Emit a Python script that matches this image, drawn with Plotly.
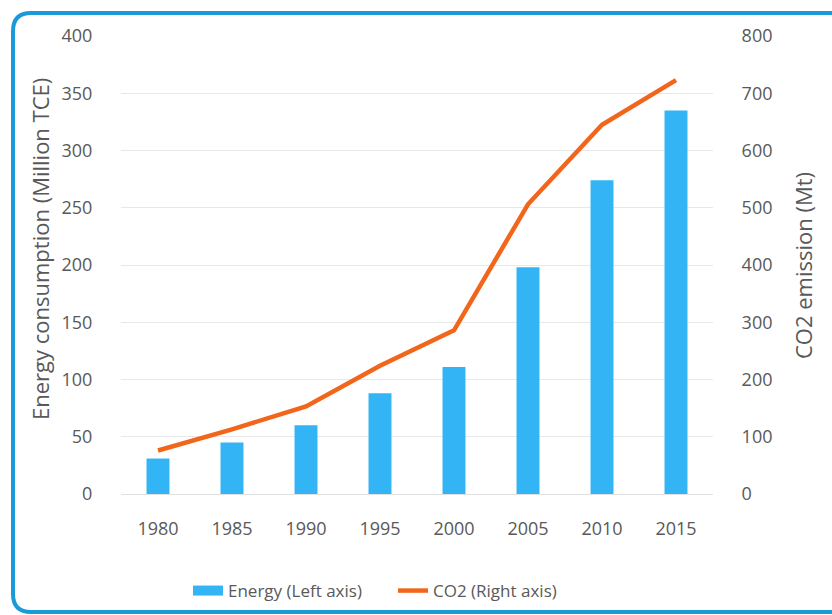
import plotly.graph_objects as go

years = ["1980", "1985", "1990", "1995", "2000", "2005", "2010", "2015"]
energy = [31, 45, 60, 88, 111, 198, 274, 335]
co2 = [76, 113, 153, 224, 286, 506, 645, 723]
left_ticks = [0, 50, 100, 150, 200, 250, 300, 350, 400]
right_ticks = [0, 100, 200, 300, 400, 500, 600, 700, 800]

W, H = 832, 615
L, R, T, B = 121, 119, 36, 121
pw, ph = W - L - R, H - T - B

def px(x):
    return (x - L) / pw

def py(y):
    return 1 - (y - T) / ph

font = "Open Sans, Noto Sans, sans-serif"
gray = "#595959"
blue = "#33b4f4"
orange = "#f2661c"

fig = go.Figure()
fig.add_trace(go.Bar(x=years, y=energy, name="Energy (Left axis)", showlegend=False,
                     marker=dict(color=blue, line=dict(width=0)), width=0.31))
# legend-only entry drawn as a thick swatch like the reference legend
fig.add_trace(go.Scatter(x=[None], y=[None], name="Energy (Left axis)", mode="lines",
                         line=dict(color=blue, width=14)))
fig.add_trace(go.Scatter(x=years, y=co2, name="CO2 (Right axis)", yaxis="y2",
                         mode="lines", line=dict(color=orange, width=4.5)))

# rounded frame
x0, x1, y0, y1, r = 13, 845, 13, 612, 18
path = (f"M {px(x1)},{py(y0)} L {px(x0 + r)},{py(y0)} "
        f"Q {px(x0)},{py(y0)} {px(x0)},{py(y0 + r)} "
        f"L {px(x0)},{py(y1 - r)} Q {px(x0)},{py(y1)} {px(x0 + r)},{py(y1)} "
        f"L {px(x1)},{py(y1)}")

fig.update_layout(
    width=W, height=H,
    margin=dict(l=L, r=R, t=T, b=B, autoexpand=False),
    paper_bgcolor="white", plot_bgcolor="white",
    font=dict(family=font, size=18, color=gray),
    bargap=0.5,
    xaxis=dict(type="category", showgrid=False, showline=True, linecolor="#e0e0e0",
               linewidth=1, ticks="outside", ticklen=18, tickcolor="rgba(0,0,0,0)",
               tickfont=dict(size=18, color=gray)),
    yaxis=dict(range=[0, 400], tickvals=left_ticks, showgrid=True, gridcolor="#e8e8e8",
               zeroline=False, showline=False, ticks="outside", ticklen=24,
               tickcolor="rgba(0,0,0,0)"),
    yaxis2=dict(range=[0, 800], tickvals=right_ticks, overlaying="y", side="right",
                showgrid=False, zeroline=False, showline=False, ticks="outside",
                ticklen=24, tickcolor="rgba(0,0,0,0)"),
    annotations=[
        dict(text="Energy consumption (Million TCE)", textangle=-90, showarrow=False,
             xref="paper", yref="paper", x=px(40), y=py(249), xanchor="center",
             yanchor="middle", font=dict(size=22, color=gray)),
        dict(text="CO2 emission (Mt)", textangle=-90, showarrow=False,
             xref="paper", yref="paper", x=px(803), y=py(266), xanchor="center",
             yanchor="middle", font=dict(size=22, color=gray)),
    ],
    legend=dict(orientation="h", x=px(188), xanchor="left", y=py(591), yanchor="middle",
                font=dict(size=17, color=gray), traceorder="normal", itemwidth=30,
                entrywidth=160, entrywidthmode="pixels"),
    shapes=[dict(type="path", path=path, xref="paper", yref="paper",
                 line=dict(color="#1a9bd7", width=4), layer="above")],
)

fig.write_html("out.html")
